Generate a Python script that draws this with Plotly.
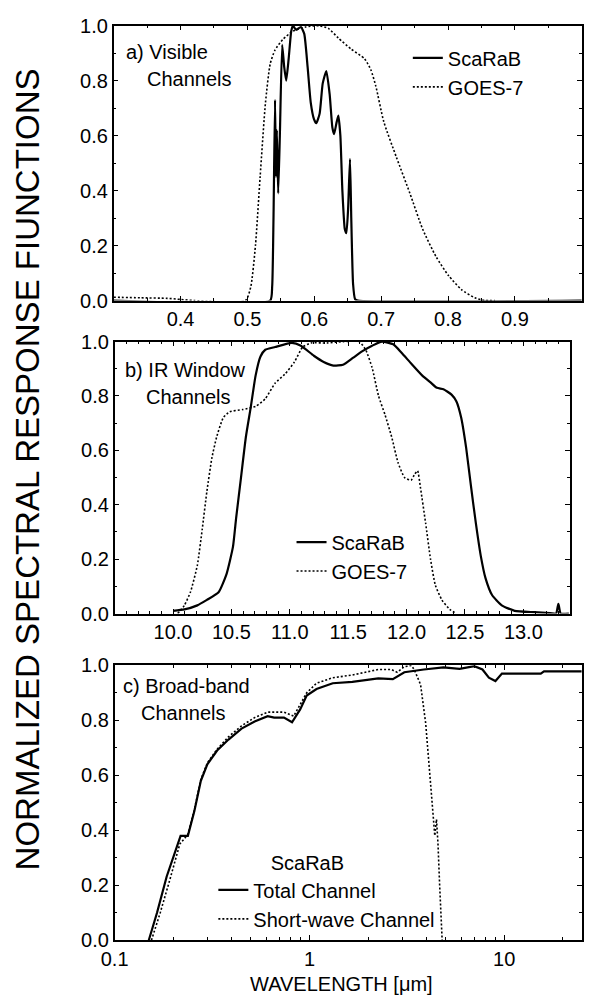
import plotly.graph_objects as go

# ---------------- a) Visible channels ----------------
vis_scarab_x = [0.30, 0.534, 0.537, 0.539, 0.5413, 0.5427, 0.544, 0.546, 0.5485, 0.552,
                0.555, 0.558, 0.5617, 0.5655, 0.568, 0.573, 0.580, 0.585, 0.590, 0.5947,
                0.5995, 0.603, 0.608, 0.6126, 0.618, 0.623, 0.627, 0.6296, 0.6335, 0.636,
                0.639, 0.642, 0.6456, 0.648, 0.6505, 0.6534, 0.6553, 0.658, 0.661, 0.665, 1.0]
vis_scarab_y = [0.0, 0.0, 0.05, 0.30, 0.73, 0.45, 0.62, 0.39, 0.60, 0.93,
                0.85, 0.80, 0.88, 0.98, 1.0, 0.985, 0.995, 0.97, 0.85, 0.72,
                0.66, 0.645, 0.68, 0.79, 0.835, 0.75, 0.63, 0.605, 0.65, 0.673,
                0.60, 0.40, 0.26, 0.245, 0.33, 0.515, 0.30, 0.06, 0.005, 0.0, 0.0]

vis_goes_x = [0.30, 0.34, 0.38, 0.40, 0.42, 0.497, 0.505, 0.512, 0.519, 0.527,
              0.534, 0.541, 0.553, 0.568, 0.587, 0.607, 0.621, 0.636, 0.655, 0.675,
              0.6845, 0.692, 0.704, 0.723, 0.743, 0.762, 0.782, 0.801, 0.82, 0.84,
              0.855, 0.87]
vis_goes_y = [0.012, 0.01, 0.008, 0.004, 0.0, 0.0, 0.05, 0.2, 0.45, 0.72,
              0.86, 0.91, 0.95, 0.98, 0.995, 1.0, 0.99, 0.955, 0.915, 0.88,
              0.84, 0.78, 0.65, 0.52, 0.39, 0.26, 0.16, 0.09, 0.04, 0.01,
              0.0, 0.0]

# ---------------- b) IR window channels ----------------
ir_scarab_x = [10.0, 10.097, 10.208, 10.29, 10.39, 10.458, 10.513, 10.54, 10.582, 10.624,
               10.666, 10.707, 10.749, 10.79, 10.874, 11.018, 11.095, 11.206, 11.29, 11.373,
               11.456, 11.54, 11.622, 11.705, 11.789, 11.886, 11.955, 12.038, 12.135, 12.205,
               12.26, 12.316, 12.385, 12.427, 12.468, 12.51, 12.551, 12.593, 12.635, 12.676,
               12.732, 12.815, 12.926, 13.092, 13.23, 13.28, 13.30, 13.32, 13.39]
ir_scarab_y = [0.01, 0.015, 0.03, 0.05, 0.078, 0.145, 0.245, 0.35, 0.5, 0.65,
               0.76, 0.875, 0.945, 0.97, 0.98, 0.995, 0.985, 0.948, 0.925, 0.912,
               0.915, 0.94, 0.965, 0.985, 1.0, 0.99, 0.96, 0.92, 0.875, 0.85,
               0.83, 0.825, 0.805, 0.78, 0.72, 0.61, 0.47, 0.333, 0.213, 0.13,
               0.068, 0.03, 0.01, 0.005, 0.002, 0.0, 0.036, 0.0, 0.0]

ir_goes_x = [10.04, 10.097, 10.15, 10.208, 10.25, 10.29, 10.333, 10.374, 10.43, 10.485,
             10.596, 10.707, 10.79, 10.874, 10.957, 11.04, 11.11, 11.18, 11.317, 11.456,
             11.595, 11.65, 11.705, 11.76, 11.816, 11.872, 11.927, 11.983, 12.038, 12.066,
             12.094, 12.12, 12.163, 12.205, 12.246, 12.302, 12.37, 12.427]
ir_goes_y = [0.0, 0.03, 0.08, 0.177, 0.31, 0.45, 0.573, 0.65, 0.72, 0.742,
             0.75, 0.762, 0.79, 0.847, 0.88, 0.925, 0.98, 0.995, 0.995, 1.0,
             1.0, 0.97, 0.904, 0.80, 0.73, 0.65, 0.555, 0.50, 0.49, 0.51,
             0.525, 0.46, 0.333, 0.20, 0.105, 0.05, 0.015, 0.0]

# ---------------- c) Broad-band channels ----------------
bb_total_x = [0.1497, 0.165, 0.185, 0.218, 0.2376, 0.2566, 0.277, 0.299, 0.3357, 0.384,
              0.448, 0.523, 0.61, 0.659, 0.74, 0.814, 0.896, 0.968, 1.087, 1.317,
              1.66, 2.256, 2.68, 3.07, 3.865, 4.87, 5.9, 7.02, 7.73, 8.34,
              9.01, 9.73, 15.4, 16.0, 25.0]
bb_total_y = [0.0, 0.1, 0.232, 0.38, 0.38, 0.47, 0.58, 0.64, 0.69, 0.73,
              0.77, 0.796, 0.815, 0.81, 0.81, 0.793, 0.84, 0.89, 0.914, 0.935,
              0.94, 0.953, 0.95, 0.975, 0.985, 0.993, 0.987, 0.997, 0.985, 0.955,
              0.943, 0.97, 0.97, 0.978, 0.978]

bb_sw_x = [0.1545, 0.1714, 0.192, 0.216, 0.2376, 0.2566, 0.277, 0.299, 0.3357, 0.384,
           0.448, 0.523, 0.61, 0.74, 0.83, 0.896, 0.968, 1.087, 1.317, 1.66,
           2.256, 2.63, 2.82, 3.07, 3.33, 3.45, 3.72, 3.95, 4.1, 4.25,
           4.36, 4.4, 4.49, 4.57, 4.66, 4.75, 4.8]
bb_sw_y = [0.0, 0.1, 0.22, 0.35, 0.385, 0.475, 0.585, 0.645, 0.695, 0.74,
           0.78, 0.81, 0.83, 0.83, 0.815, 0.86, 0.9, 0.935, 0.955, 0.965,
           0.985, 0.985, 0.975, 0.995, 1.0, 0.985, 0.93, 0.79, 0.65, 0.5,
           0.42, 0.38, 0.44, 0.35, 0.2, 0.05, 0.0]

y_ticks = [0.0, 0.2, 0.4, 0.6, 0.8, 1.0]
vis_ticks = [0.4, 0.5, 0.6, 0.7, 0.8, 0.9]
ir_ticks = [10.0, 10.5, 11.0, 11.5, 12.0, 12.5, 13.0]
bb_ticks = [0.1, 1, 10]
bb_tick_text = ["0.1", "1", "10"]
bb_minor = [0.2, 0.3, 0.4, 0.5, 0.6, 0.7, 0.8, 0.9, 2, 3, 4, 5, 6, 7, 8, 9, 20]

FONT = "Liberation Sans, Arial, Helvetica, sans-serif"
FS = 20
W, H = 615, 1006
SOLID = dict(color="black", width=2.2)
DOTTED = dict(color="black", width=1.6, dash="2px,2px")
TXT = dict(family=FONT, size=FS, color="black")

fig = go.Figure()

fig.add_trace(go.Scatter(x=vis_scarab_x, y=vis_scarab_y, mode="lines", name="ScaRaB",
                         line=dict(**SOLID, shape="spline", smoothing=0.5),
                         xaxis="x", yaxis="y", legend="legend"))
fig.add_trace(go.Scatter(x=vis_goes_x, y=vis_goes_y, mode="lines", name="GOES-7",
                         line=dict(**DOTTED, shape="spline", smoothing=0.6),
                         xaxis="x", yaxis="y", legend="legend"))

fig.add_trace(go.Scatter(x=ir_scarab_x, y=ir_scarab_y, mode="lines", name="ScaRaB",
                         line=dict(**SOLID, shape="spline", smoothing=0.5),
                         xaxis="x2", yaxis="y2", legend="legend2"))
fig.add_trace(go.Scatter(x=ir_goes_x, y=ir_goes_y, mode="lines", name="GOES-7",
                         line=dict(**DOTTED, shape="spline", smoothing=0.5),
                         xaxis="x2", yaxis="y2", legend="legend2"))

fig.add_trace(go.Scatter(x=bb_total_x, y=bb_total_y, mode="lines", name="Total Channel",
                         line=dict(**SOLID),
                         xaxis="x3", yaxis="y3", legend="legend3"))
fig.add_trace(go.Scatter(x=bb_sw_x, y=bb_sw_y, mode="lines", name="Short-wave Channel",
                         line=dict(**DOTTED),
                         xaxis="x3", yaxis="y3", legend="legend3"))


def px_x(p):
    return p / W


def px_y(p):
    return 1 - p / H


common = dict(showline=True, linecolor="black", linewidth=1.6, mirror="ticks",
              ticks="inside", ticklen=5, tickwidth=1.2, tickcolor="black",
              showgrid=False, zeroline=False, tickfont=TXT)
minor_common = dict(ticks="inside", ticklen=3, tickwidth=1, tickcolor="black", showgrid=False)

yax = dict(common, range=[0, 1.0], tickvals=y_ticks, tickformat=".1f",
           minor=dict(minor_common, dtick=0.1))

legend_common = dict(xanchor="left", yanchor="top", bgcolor="rgba(0,0,0,0)",
                     borderwidth=0, font=TXT)

fig.update_layout(
    width=W, height=H,
    margin=dict(l=0, r=0, t=0, b=0),
    paper_bgcolor="white", plot_bgcolor="white",
    font=TXT,
    xaxis=dict(common, domain=[px_x(102), px_x(581)], range=[0.3, 1.0],
               tickvals=vis_ticks, tickformat=".1f", anchor="y",
               minor=dict(minor_common, dtick=0.05, tick0=0.3)),
    yaxis=dict(yax, domain=[px_y(296), px_y(15)], anchor="x"),
    xaxis2=dict(common, domain=[px_x(103), px_x(569)], range=[9.5, 13.4],
                tickvals=ir_ticks, tickformat=".1f", anchor="y2",
                minor=dict(minor_common, dtick=0.1, tick0=9.5)),
    yaxis2=dict(yax, domain=[px_y(616), px_y(338)], anchor="x2"),
    xaxis3=dict(common, domain=[px_x(103), px_x(581)], type="log",
                range=[-1, 1.398], tickvals=bb_ticks, ticktext=bb_tick_text, anchor="y3",
                minor=dict(minor_common, tickvals=bb_minor)),
    yaxis3=dict(yax, domain=[px_y(950), px_y(669)], anchor="x3"),
    legend=dict(legend_common, x=px_x(403), y=px_y(28)),
    legend2=dict(legend_common, x=px_x(284), y=px_y(523)),
    legend3=dict(legend_common, x=px_x(204), y=px_y(852),
                 title=dict(text="ScaRaB" + "\u00a0" * 7, side="top center", font=TXT)),
    showlegend=True,
)

# Panel captions
captions = [
    ("a) Visible", 113, 42), ("Channels", 134, 70),
    ("b) IR Window", 112, 367), ("Channels", 133, 395),
    ("c) Broad-band", 110, 690), ("Channels", 128, 718),
]
for text, xp, yp in captions:
    fig.add_annotation(text=text, x=px_x(xp), y=px_y(yp), xref="paper", yref="paper",
                       xanchor="left", yanchor="middle", showarrow=False, font=TXT)

# Shared axis titles
fig.add_annotation(text="NORMALIZED SPECTRAL RESPONSE FIUNCTIONS", textangle=-90,
                   x=px_x(14), y=px_y(469), xref="paper", yref="paper",
                   xanchor="center", yanchor="middle", showarrow=False,
                   font=dict(family=FONT, size=33, color="black"))
fig.add_annotation(text="WAVELENGTH [\u03bcm]",
                   x=px_x(335), y=px_y(995), xref="paper", yref="paper",
                   xanchor="center", yanchor="middle", showarrow=False, font=TXT)

fig.write_html("out.html")
